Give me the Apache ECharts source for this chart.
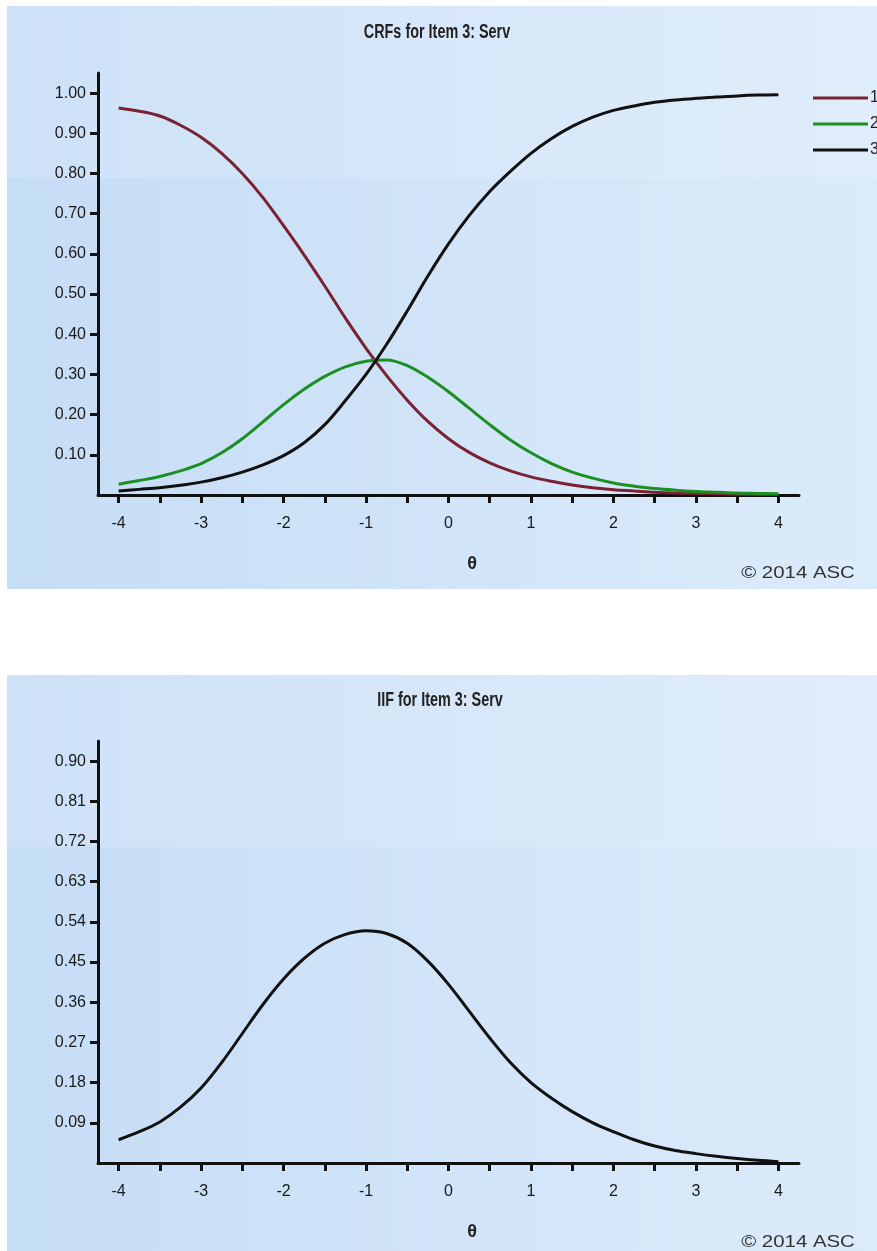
<!DOCTYPE html>
<html>
<head>
<meta charset="utf-8">
<script src="https://cdn.jsdelivr.net/npm/echarts@6/dist/echarts.min.js"></script>
<style>
  html, body { margin: 0; padding: 0; background: #fff; }
  #chart { width: 877px; height: 1251px; }
</style>
</head>
<body>
<div id="chart"></div>
<script>
// theta grid, 0.25 steps
const theta = [-4, -3.75, -3.5, -3.25, -3, -2.75, -2.5, -2.25, -2, -1.75, -1.5, -1.25, -1, -0.75, -0.5, -0.25,
  0, 0.25, 0.5, 0.75, 1, 1.25, 1.5, 1.75, 2, 2.25, 2.5, 2.75, 3, 3.25, 3.5, 3.75, 4];

// category response functions
const crf1 = [0.963, 0.955, 0.943, 0.92, 0.89, 0.85, 0.80, 0.74, 0.67, 0.597, 0.52, 0.44, 0.365, 0.297, 0.236, 0.183,
  0.14, 0.106, 0.08, 0.06, 0.045, 0.034, 0.025, 0.018, 0.013, 0.01, 0.007, 0.005, 0.004, 0.003, 0.002, 0.0015, 0.001];
const crf2 = [0.027, 0.036, 0.046, 0.06, 0.078, 0.105, 0.14, 0.182, 0.225, 0.263, 0.295, 0.319, 0.333, 0.336, 0.322, 0.293,
  0.257, 0.216, 0.175, 0.137, 0.105, 0.078, 0.057, 0.042, 0.03, 0.022, 0.016, 0.012, 0.009, 0.007, 0.005, 0.004, 0.003];
const crf3 = [0.01, 0.014, 0.018, 0.024, 0.032, 0.043, 0.057, 0.075, 0.098, 0.13, 0.175, 0.235, 0.30, 0.375, 0.458, 0.545,
  0.625, 0.695, 0.755, 0.805, 0.85, 0.887, 0.917, 0.94, 0.957, 0.968, 0.977, 0.983, 0.987, 0.99, 0.993, 0.995, 0.996];

// item information function
const iif = [0.052, 0.07, 0.092, 0.125, 0.168, 0.225, 0.29, 0.355, 0.412, 0.458, 0.492, 0.512, 0.52, 0.514, 0.492, 0.452,
  0.40, 0.34, 0.28, 0.225, 0.18, 0.145, 0.115, 0.09, 0.07, 0.052, 0.038, 0.028, 0.021, 0.015, 0.01, 0.006, 0.003];

const categoryNames = ["1", "2", "3"];
const xTicks = [-4, -3.5, -3, -2.5, -2, -1.5, -1, -0.5, 0, 0.5, 1, 1.5, 2, 2.5, 3, 3.5, 4];
const xLabels = [-4, -3, -2, -1, 0, 1, 2, 3, 4];
const crfTicks = [0.1, 0.2, 0.3, 0.4, 0.5, 0.6, 0.7, 0.8, 0.9, 1.0];
const iifTicks = [0.09, 0.18, 0.27, 0.36, 0.45, 0.54, 0.63, 0.72, 0.81, 0.90];

function pairs(ys) {
  return theta.map((t, i) => [t, ys[i]]);
}

var dom = document.getElementById("chart");
var myChart = echarts.init(dom);

const FONT = "'Liberation Sans', Arial, sans-serif";
const axisColor = "#111";

function panel(top, height) {
  return [
    {
      type: "rect",
      shape: { x: 7, y: top, width: 870, height: height },
      style: {
        fill: new echarts.graphic.LinearGradient(0, 0, 1, 0, [
          { offset: 0, color: "#c6ddf6" },
          { offset: 0.5, color: "#d1e4f8" },
          { offset: 1, color: "#dcebfa" },
        ]),
      },
      z: -20,
      silent: true,
    },
    // glossy band at the top
    {
      type: "rect",
      shape: { x: 7, y: top, width: 870, height: 172 },
      style: { fill: "rgba(255,255,255,0.13)" },
      z: -19,
      silent: true,
    },
  ];
}

// condensed bold title, squeezed horizontally
function titleText(text, x, y) {
  return {
    type: "text",
    x: x,
    y: y,
    scaleX: 0.72,
    style: {
      text: text,
      font: "bold 20px " + FONT,
      fill: "#222",
      textAlign: "center",
      textVerticalAlign: "middle",
      align: "center",
      verticalAlign: "middle",
    },
  };
}

function copyright(y) {
  return {
    type: "text",
    x: 798,
    y: y,
    scaleX: 1.2,
    style: {
      text: "© 2014 ASC",
      font: "17px " + FONT,
      fill: "#333",
      textAlign: "center",
      textVerticalAlign: "middle",
      align: "center",
      verticalAlign: "middle",
    },
  };
}

function thetaText(y) {
  return {
    type: "text",
    x: 472,
    y: y,
    style: {
      text: "θ",
      font: "bold 18px " + FONT,
      fill: "#222",
      textAlign: "center",
      textVerticalAlign: "middle",
      align: "center",
      verticalAlign: "middle",
    },
  };
}

function xAxisOpt(gridIndex) {
  return {
    type: "value",
    gridIndex: gridIndex,
    min: -4.25,
    max: 4.25,
    splitLine: { show: false },
    axisLine: { onZero: false, lineStyle: { color: axisColor, width: 3 } },
    axisTick: { customValues: xTicks, length: 8, lineStyle: { color: axisColor, width: 3 } },
    axisLabel: {
      customValues: xLabels,
      color: "#1a1a1a",
      fontSize: 16,
      fontFamily: FONT,
      margin: 21,
    },
  };
}

function yAxisOpt(gridIndex, max, ticks) {
  return {
    type: "value",
    gridIndex: gridIndex,
    min: 0,
    max: max,
    splitLine: { show: false },
    axisLine: { show: true, onZero: false, lineStyle: { color: axisColor, width: 3 } },
    axisTick: { show: true, customValues: ticks, length: 8, lineStyle: { color: axisColor, width: 3 } },
    axisLabel: {
      customValues: ticks,
      color: "#1a1a1a",
      fontSize: 16,
      fontFamily: FONT,
      margin: 12,
      formatter: (v) => v.toFixed(2),
    },
  };
}

function lineSeries(name, data, color, xi, yi) {
  return {
    name: name,
    type: "line",
    xAxisIndex: xi,
    yAxisIndex: yi,
    data: pairs(data),
    smooth: 0.35,
    showSymbol: false,
    symbol: "none",
    lineStyle: { color: color, width: 3 },
    itemStyle: { color: color },
  };
}

const option = {
  animation: false,
  backgroundColor: "#fff",
  legend: {
    data: categoryNames,
    orient: "vertical",
    left: 808,
    top: 85,
    itemWidth: 55,
    itemHeight: 3,
    itemGap: 10,
    icon: "rect",
    textStyle: { fontFamily: FONT, fontSize: 16, color: "#222", padding: [0, 0, 0, -3] },
  },
  grid: [
    { left: 98, top: 73, width: 701, height: 422 },
    { left: 98, top: 741, width: 701, height: 422 },
  ],
  xAxis: [xAxisOpt(0), xAxisOpt(1)],
  yAxis: [yAxisOpt(0, 1.05, crfTicks), yAxisOpt(1, 0.945, iifTicks)],
  graphic: [
    ...panel(6, 583),
    ...panel(675, 576),
    titleText("CRFs for Item 3: Serv", 437, 32),
    titleText("IIF for Item 3: Serv", 440, 700),
    thetaText(564),
    thetaText(1232),
    copyright(573),
    copyright(1242),
  ],
  series: [
    lineSeries("1", crf1, "#7a2232", 0, 0),
    lineSeries("2", crf2, "#1c8f22", 0, 0),
    lineSeries("3", crf3, "#111", 0, 0),
    lineSeries("IIF", iif, "#111", 1, 1),
  ],
};

myChart.setOption(option);
</script>
</body>
</html>
